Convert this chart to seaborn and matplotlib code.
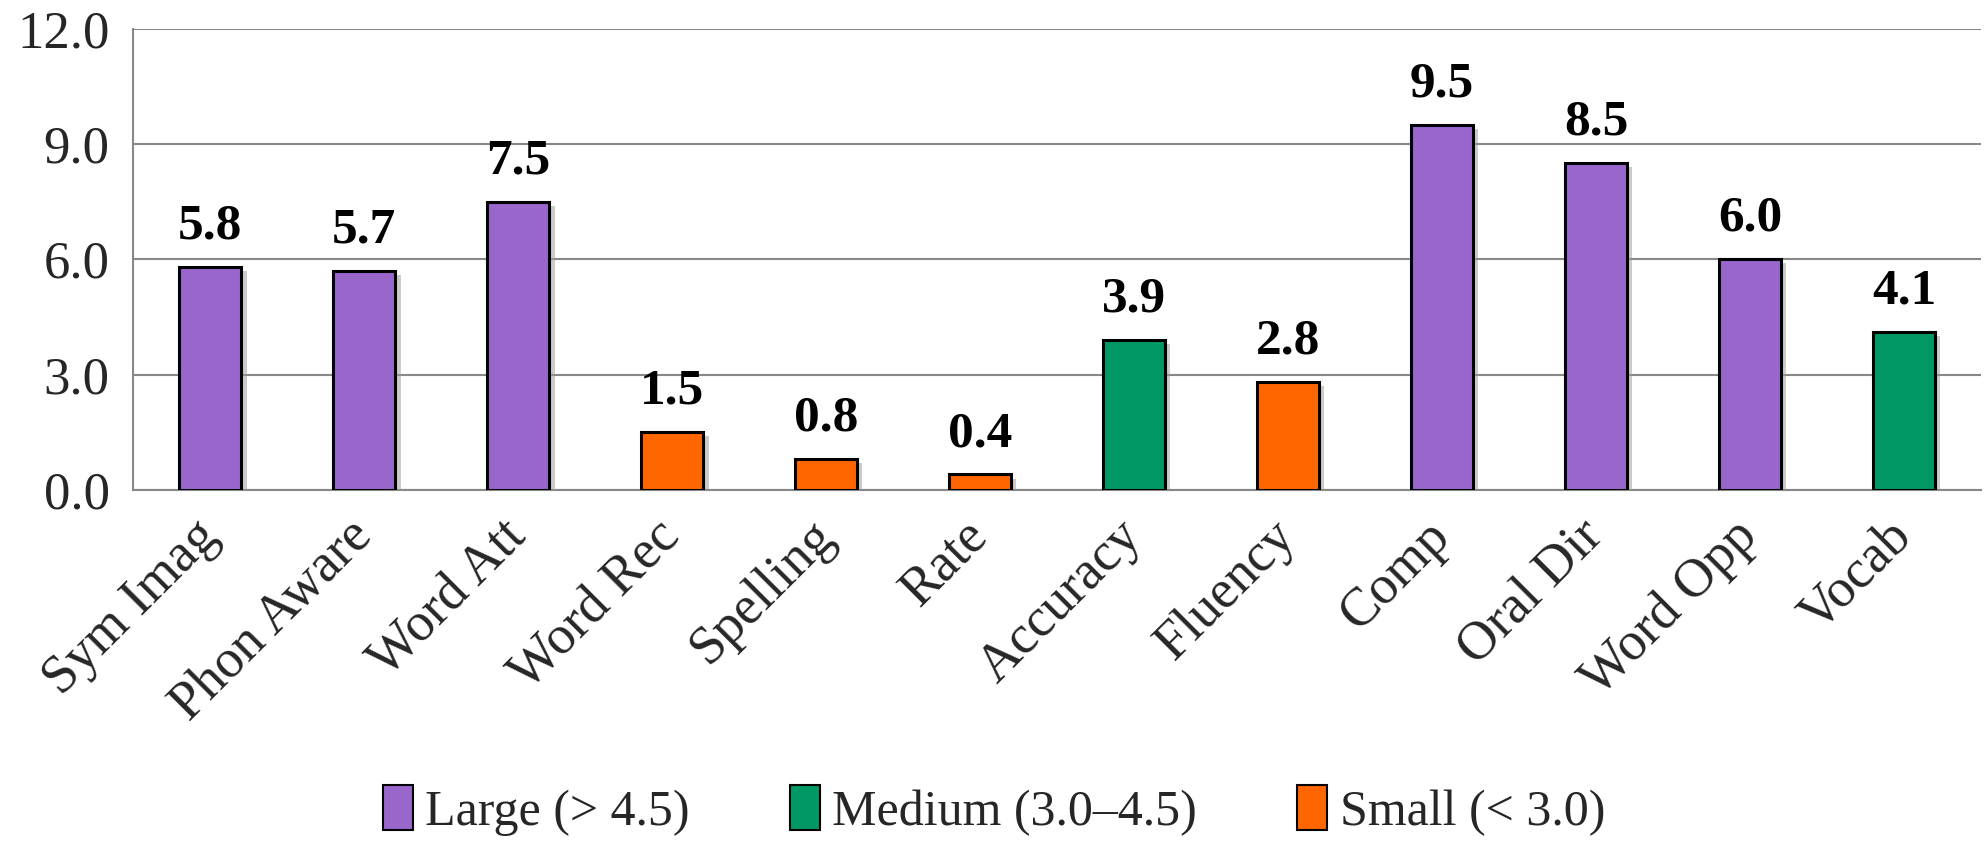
import matplotlib
matplotlib.use("Agg")
import matplotlib.pyplot as plt
import matplotlib.patheffects as pe
from matplotlib.patches import Patch
import seaborn as sns
import pandas as pd

categories = ["Sym Imag", "Phon Aware", "Word Att", "Word Rec", "Spelling", "Rate",
              "Accuracy", "Fluency", "Comp", "Oral Dir", "Word Opp", "Vocab"]
values = [5.8, 5.7, 7.5, 1.5, 0.8, 0.4, 3.9, 2.8, 9.5, 8.5, 6.0, 4.1]
groups = ["Large", "Large", "Large", "Small", "Small", "Small",
          "Medium", "Small", "Large", "Large", "Large", "Medium"]
group_labels = {"Large": "Large (> 4.5)", "Medium": "Medium (3.0\u20134.5)", "Small": "Small (< 3.0)"}
group_order = ["Large", "Medium", "Small"]
palette = {"Large": "#9966CC", "Medium": "#009966", "Small": "#FF6600"}
yticks = [0.0, 3.0, 6.0, 9.0, 12.0]

df = pd.DataFrame({"cat": categories, "val": values, "grp": groups})

sns.set_style("white")
plt.rcParams["font.family"] = ["Liberation Serif", "DejaVu Serif"]

fig = plt.figure(figsize=(19.88, 8.43), dpi=100)
ax = fig.add_axes([0.067, 0.419, 0.9295, 0.547])

sns.barplot(data=df, x="cat", y="val", hue="grp", hue_order=group_order,
            palette=palette, saturation=1, dodge=False, width=0.4, edgecolor="black",
            linewidth=2.2, legend=False, ax=ax, zorder=3)

for p in ax.patches:
    p.set_path_effects([pe.SimplePatchShadow(offset=(4, -3), shadow_rgbFace="#999999", alpha=0.5),
                        pe.Normal()])

for i, v in enumerate(values):
    ax.text(i, v + 0.45, f"{v:.1f}", ha="center", va="bottom",
            fontsize=37, fontweight="bold", color="black")

ax.set_xlim(-0.5, len(categories) - 0.5)
ax.set_ylim(0, 12)
ax.set_yticks(yticks)
ax.set_yticklabels([f"{t:.1f}" for t in yticks], fontsize=38)
ax.set_xticks(range(len(categories)))
ax.set_xticklabels(categories, rotation=45, ha="right", va="center",
                   rotation_mode="anchor", fontsize=39)
ax.set_xticks([i - 0.5 for i in range(len(categories) + 1)], minor=True)
ax.tick_params(axis="x", which="major", length=0, pad=28)
ax.tick_params(axis="x", which="minor", length=14, width=1.5, color="#888888", direction="out")
ax.tick_params(axis="y", length=14, width=1.5, color="#888888", direction="out", pad=3)
ax.set_xlabel("")
ax.set_ylabel("")
ax.yaxis.grid(True, color="#888888", linewidth=1.5, zorder=0)
ax.set_axisbelow(True)
for s in ["top", "right"]:
    ax.spines[s].set_visible(False)
for s in ["left", "bottom"]:
    ax.spines[s].set_color("#888888")
    ax.spines[s].set_linewidth(1.5)

handles = [Patch(facecolor=palette[g], edgecolor="black", linewidth=1.5, label=group_labels[g])
           for g in group_order]
fig.legend(handles=handles, loc="lower center", bbox_to_anchor=(0.5, -0.045), ncol=3,
           frameon=False, fontsize=36, handlelength=0.6, handleheight=1.0,
           handletextpad=0.25, columnspacing=2.0)

fig.savefig("out.png", dpi=100)
